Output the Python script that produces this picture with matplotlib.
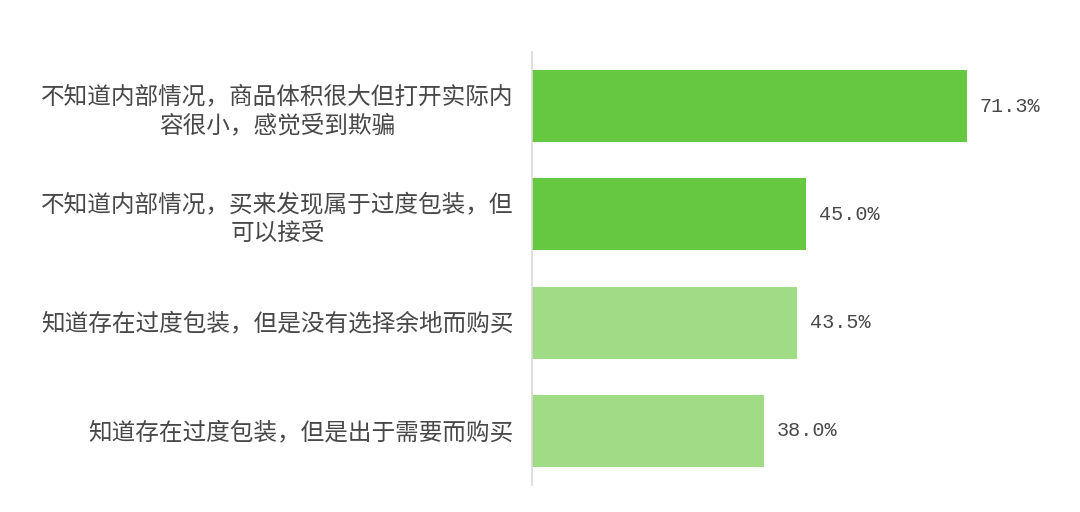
import matplotlib.pyplot as plt

plt.rcParams['font.family'] = ['Noto Sans CJK SC', 'DejaVu Sans']

# data, top to bottom as in the picture
categories = [
    '不知道内部情况，商品体积很大但打开实际内\n容很小，感觉受到欺骗',
    '不知道内部情况，买来发现属于过度包装，但\n可以接受',
    '知道存在过度包装，但是没有选择余地而购买',
    '知道存在过度包装，但是出于需要而购买',
]
values = [71.3, 45.0, 43.5, 38.0]
bar_colors = ['#66C840', '#66C840', '#A0DC86', '#A0DC86']

fig = plt.figure(figsize=(10.8, 5.12), dpi=100)
fig.patch.set_facecolor('white')
ax = fig.add_axes([0.4926, 0.0527, 0.4963, 0.8457])

y_pos = list(range(len(categories)))
bars = ax.barh(y_pos, values, height=0.665, color=bar_colors, edgecolor='none')

ax.set_ylim(len(categories) - 0.5, -0.5)
ax.set_xlim(0, 87.9)

ax.set_yticks(y_pos)
ax.set_yticklabels(categories, fontsize=17, color='#484848', linespacing=1.3)
for lbl in ax.get_yticklabels():
    lbl.set_multialignment('center')
ax.tick_params(axis='y', length=0, pad=13)
ax.set_xticks([])

for side in ['top', 'right', 'bottom']:
    ax.spines[side].set_visible(False)
ax.spines['left'].set_color('#D9D9D9')
ax.spines['left'].set_linewidth(1.2)

# value labels at bar ends
for bar, v in zip(bars, values):
    ax.annotate(f'{v:.1f}%', xy=(bar.get_width(), bar.get_y() + bar.get_height() / 2),
                xytext=(9, 0), textcoords='offset points', va='center', ha='left',
                fontsize=14.5, color='#484848', family='Liberation Mono')

fig.savefig('out.png', dpi=100, facecolor='white')
